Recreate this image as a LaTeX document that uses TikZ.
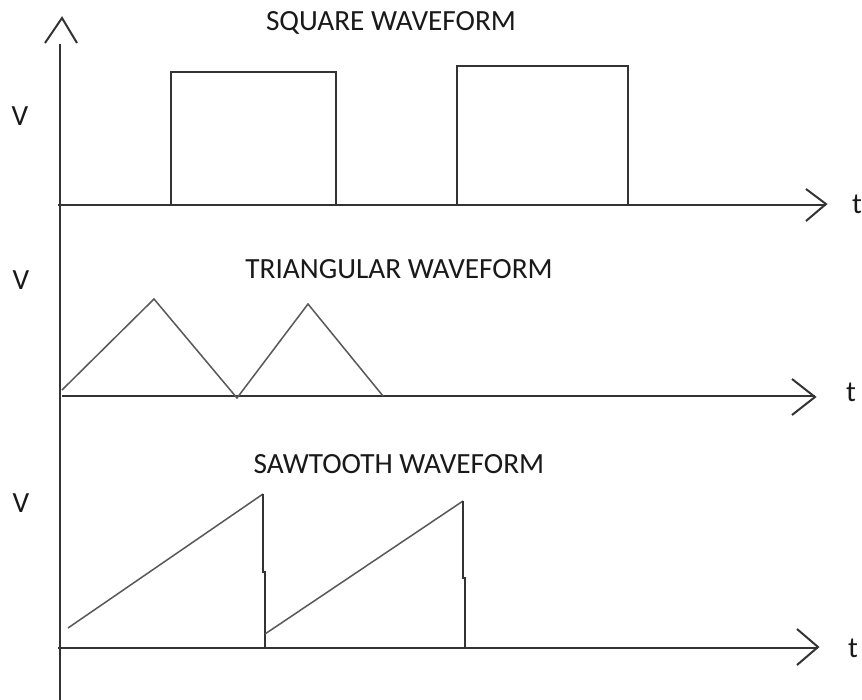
\documentclass[tikz,border=0pt]{standalone}
\usepackage{fontspec}
\setmainfont{Carlito}
\begin{document}
\begin{tikzpicture}[x=0.03cm,y=-0.03cm,
		axisline/.style={line width=1.7pt,draw=black!80},
		pulse/.style={line width=1.7pt,draw=black!80},
		ramp/.style={line width=1.3pt,draw=black!65},
		lbl/.style={anchor=base,text=black!90,inner sep=0pt,font=\fontsize{25}{30}\selectfont}]
		\useasboundingbox (0,0) rectangle (862,700);
		% axes
		\draw[axisline] (60,700) -- (60,44);
		\draw[axisline] (45,43) -- (62,18) -- (77,43);
		\draw[axisline] (58,205) -- (826,205);
		\draw[axisline] (806,189) -- (826,204) -- (806,221);
		\draw[axisline] (62,396) -- (815,396);
		\draw[axisline] (792,379) -- (815,397) -- (792,415);
		\draw[axisline] (58,648) -- (818,648);
		\draw[axisline] (797,629) -- (818,647) -- (797,665);
		% square
		\draw[pulse] (171,205) -- (171,72) -- (336,72) -- (336,205);
		\draw[pulse] (457,205) rectangle (628,66);
		% triangular
		\draw[ramp] (62,390) -- (154,299) -- (237,398) -- (308,304) -- (383,396);
		% sawtooth
		\draw[ramp] (68,628) -- (263,494);
		\draw[pulse] (263,494) -- (263,572) -- (265,572) -- (265,648);
		\draw[ramp] (265,634) -- (463,501);
		\draw[pulse] (463,501) -- (463,578) -- (465,578) -- (465,648);
		% labels
		\node[lbl] (sqtitle) at (391,31) {SQUARE WAVEFORM};
		\node[lbl] (tritle) at (399,278) {TRIANGULAR WAVEFORM};
		\node[lbl] (sawtitle) at (399,473) {SAWTOOTH WAVEFORM};
		\node[lbl] (vsq) at (20,125) {V};
		\node[lbl] (vtri) at (21,289) {V};
		\node[lbl] (vsaw) at (21,512) {V};
		\node[lbl] (tsq) at (857,213) {t};
		\node[lbl] (ttri) at (851,401) {t};
		\node[lbl] (tsaw) at (853,657) {t};
\end{tikzpicture}
\end{document}
